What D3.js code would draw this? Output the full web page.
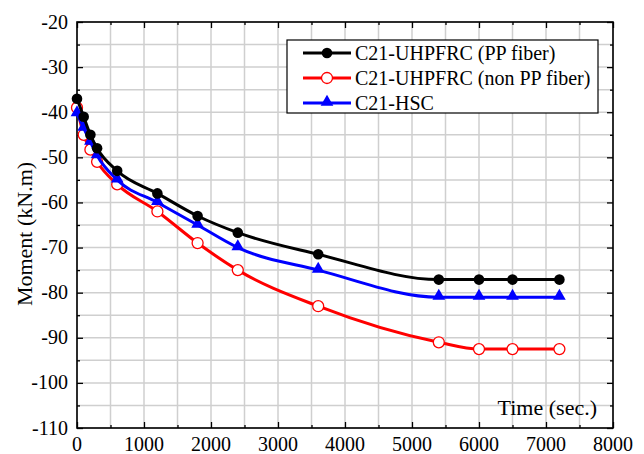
<!DOCTYPE html>
<html>
<head>
<meta charset="utf-8">
<script src="https://cdn.jsdelivr.net/npm/d3@7"></script>
<style>
  body { margin: 0; background: white; }
</style>
</head>
<body>
<div id="chart"></div>
<script>
const time = [0, 100, 200, 300, 600, 1200, 1800, 2400, 3600, 5400, 6000, 6500, 7200]
const ppFiber = [-37, -41, -45, -48, -53, -58, -63, -66.7, -71.5, -77.1, -77.1, -77.1, -77.1]
const nonPpFiber = [-39, -45, -48.3, -51, -56, -62, -69, -75, -83, -91, -92.5, -92.5, -92.5]
const hsc = [-40.3, -43.5, -46.6, -49.6, -55, -60, -65, -70, -75, -81, -81, -81, -81]
const seriesNames = ['C21-UHPFRC (PP fiber)', 'C21-UHPFRC (non PP fiber)', 'C21-HSC']
const xTicks = [0, 1000, 2000, 3000, 4000, 5000, 6000, 7000, 8000]
const yTicks = [-20, -30, -40, -50, -60, -70, -80, -90, -100, -110]

const width = 644
const height = 454
const plotLeft = 77, plotRight = 613, plotTop = 22, plotBottom = 428
const serif = "'Liberation Serif', 'Times New Roman', 'DejaVu Serif', serif"

const svg = d3.select('#chart').append('svg')
    .attr('width', width)
    .attr('height', height)
    .style('font-family', serif)

const x = d3.scaleLinear().domain([0, 8000]).range([plotLeft, plotRight])
const y = d3.scaleLinear().domain([-110, -20]).range([plotBottom, plotTop])

// grid, every minor step
const gridX = d3.range(0, 8001, 500)
const gridY = d3.range(-110, -19, 5)
svg.append('g').selectAll('line').data(gridX).join('line')
    .attr('x1', d => x(d)).attr('x2', d => x(d))
    .attr('y1', plotTop).attr('y2', plotBottom)
    .attr('stroke', '#cfcfcf').attr('stroke-width', 1.5)
svg.append('g').selectAll('line').data(gridY).join('line')
    .attr('x1', plotLeft).attr('x2', plotRight)
    .attr('y1', d => y(d)).attr('y2', d => y(d))
    .attr('stroke', '#cfcfcf').attr('stroke-width', 1.5)

// axes with inward ticks
function tickAxis(axis, tr, vals, size) {
    svg.append('g').attr('transform', tr)
        .call(axis.tickValues(vals).tickSize(size).tickFormat(''))
        .call(g => g.select('.domain').remove())
        .call(g => g.selectAll('line').attr('stroke', 'black').attr('stroke-width', 1.3))
}
const majX = xTicks, minX = gridX.filter(d => d % 1000 !== 0)
const majY = yTicks, minY = gridY.filter(d => d % 10 !== 0)
tickAxis(d3.axisTop(x), `translate(0,${plotBottom})`, majX, 6)
tickAxis(d3.axisTop(x), `translate(0,${plotBottom})`, minX, 3)
tickAxis(d3.axisBottom(x), `translate(0,${plotTop})`, majX, 6)
tickAxis(d3.axisBottom(x), `translate(0,${plotTop})`, minX, 3)
tickAxis(d3.axisRight(y), `translate(${plotLeft},0)`, majY, 6)
tickAxis(d3.axisRight(y), `translate(${plotLeft},0)`, minY, 3)
tickAxis(d3.axisLeft(y), `translate(${plotRight},0)`, majY, 6)
tickAxis(d3.axisLeft(y), `translate(${plotRight},0)`, minY, 3)

svg.append('rect')
    .attr('x', plotLeft).attr('y', plotTop)
    .attr('width', plotRight - plotLeft).attr('height', plotBottom - plotTop)
    .attr('fill', 'none').attr('stroke', 'black').attr('stroke-width', 1.6)

// tick labels
svg.append('g').selectAll('text').data(xTicks).join('text')
    .attr('x', d => x(d)).attr('y', plotBottom + 23)
    .attr('text-anchor', 'middle').attr('font-size', 20)
    .attr('font-family', serif)
    .text(d => d)
svg.append('g').selectAll('text').data(yTicks).join('text')
    .attr('x', plotLeft - 9).attr('y', d => y(d) + 6.5)
    .attr('text-anchor', 'end').attr('font-size', 20)
    .attr('font-family', serif)
    .text(d => d)

svg.append('text')
    .attr('transform', `translate(32,234) rotate(-90)`)
    .attr('text-anchor', 'middle').attr('font-size', 22)
    .attr('font-family', serif)
    .text('Moment (kN.m)')
svg.append('text')
    .attr('x', 597).attr('y', 415)
    .attr('text-anchor', 'end').attr('font-size', 22)
    .attr('font-family', serif)
    .text('Time (sec.)')

// series
const series = [
    {name: seriesNames[0], values: ppFiber, color: 'black', marker: 'dot'},
    {name: seriesNames[1], values: nonPpFiber, color: 'red', marker: 'open'},
    {name: seriesNames[2], values: hsc, color: 'blue', marker: 'tri'}
]
const line = d3.line()
    .x((d, i) => x(time[i]))
    .y(d => y(d))
    .curve(d3.curveMonotoneX)

function drawMarker(g, cx, cy, s) {
    if (s.marker === 'dot') {
        g.append('circle').attr('cx', cx).attr('cy', cy).attr('r', 5.3).attr('fill', 'black')
    } else if (s.marker === 'open') {
        g.append('circle').attr('cx', cx).attr('cy', cy).attr('r', 5.5)
            .attr('fill', 'white').attr('stroke', 'red').attr('stroke-width', 1.3)
    } else {
        g.append('path')
            .attr('d', d3.symbol().type(d3.symbolTriangle).size(70)())
            .attr('transform', `translate(${cx},${cy - 1})`)
            .attr('fill', 'blue')
    }
}

// draw back to front: red, blue, black
for (const s of [series[1], series[2], series[0]]) {
    svg.append('path').datum(s.values)
        .attr('d', line)
        .attr('fill', 'none').attr('stroke', s.color).attr('stroke-width', 3)
    const g = svg.append('g')
    s.values.forEach((v, i) => drawMarker(g, x(time[i]), y(v), s))
}

// legend
const lg = svg.append('g')
lg.append('rect')
    .attr('x', 287).attr('y', 40).attr('width', 311).attr('height', 73)
    .attr('fill', 'white').attr('stroke', 'black').attr('stroke-width', 1.2)
series.forEach((s, i) => {
    const ly = 53 + i * 25
    lg.append('line').attr('x1', 303).attr('x2', 351).attr('y1', ly).attr('y2', ly)
        .attr('stroke', s.color).attr('stroke-width', 3)
    drawMarker(lg, 327, ly, s)
    lg.append('text').attr('x', 355).attr('y', ly + 6.5)
        .attr('font-size', 20).attr('font-family', serif)
        .text(s.name)
})
</script>
</body>
</html>
